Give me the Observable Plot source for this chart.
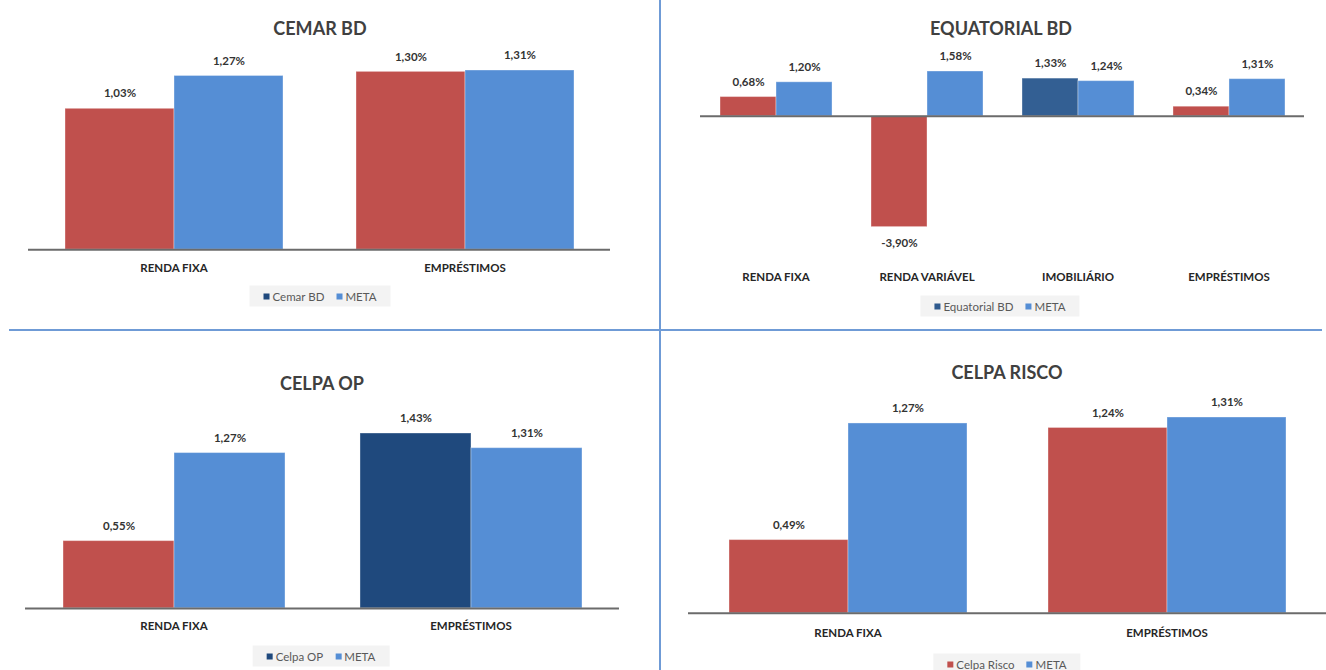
<!DOCTYPE html>
<html>
<head>
<meta charset="utf-8">
<script src="https://cdn.jsdelivr.net/npm/d3@7"></script>
<script src="https://cdn.jsdelivr.net/npm/@observablehq/plot@0.6"></script>
<style>
  html, body { margin: 0; padding: 0; background: #fff; }
  #page { position: relative; width: 1326px; height: 670px; overflow: hidden; font-family: Lato, "Open Sans", sans-serif; }
  .title { position: absolute; transform: translate(-50%, -50%); font-weight: 700; font-size: 18px; color: #404040; white-space: nowrap; }
  .legend { position: absolute; transform: translate(-50%, -50%); background: #f3f3f3; padding: 4px 14px; font-size: 11.5px; color: #595959; white-space: nowrap; display: flex; gap: 12px; }
  .legend span.sw { display: inline-block; width: 6px; height: 6px; margin-right: 3px; vertical-align: middle; position: relative; top: -1px; }
  .chart { position: absolute; }
  .divider { position: absolute; background: #6f9bd6; }
</style>
</head>
<body>
<div id="page"></div>
<script>
// ---------- data ----------
const cemarCats = ["RENDA FIXA", "EMPRÉSTIMOS"];
const cemarValues = [1.03, 1.30];
const cemarMeta = [1.27, 1.31];

const equatorialCats = ["RENDA FIXA", "RENDA VARIÁVEL", "IMOBILIÁRIO", "EMPRÉSTIMOS"];
const equatorialValues = [0.68, -3.90, 1.33, 0.34];
const equatorialMeta = [1.20, 1.58, 1.24, 1.31];

const celpaOpCats = ["RENDA FIXA", "EMPRÉSTIMOS"];
const celpaOpValues = [0.55, 1.43];
const celpaOpMeta = [1.27, 1.31];

const celpaRiscoCats = ["RENDA FIXA", "EMPRÉSTIMOS"];
const celpaRiscoValues = [0.49, 1.24];
const celpaRiscoMeta = [1.27, 1.31];

const metaName = "META";

// ---------- styles ----------
const RED = "#C0504D";
const META_BLUE = "#558ED5";

const page = document.getElementById("page");
const fmt = v => d3.format(".2f")(v).replace(".", ",").replace("−", "-") + "%";

function panel(cfg) {
  const {title, name, cats, values, meta, dark, legendColor, L} = cfg;
  const rows = cats.flatMap((c, i) => [
    {cat: c, series: name, value: values[i], fill: values[i] >= meta[i] ? dark : RED},
    {cat: c, series: metaName, value: meta[i], fill: META_BLUE}
  ]);
  const pad = 12;
  const yMax = Math.max(0, d3.max(rows, d => d.value));
  const yMin = Math.min(0, d3.min(rows, d => d.value));
  const mt = 30;
  const frameBottom = L.base - yMin * L.k;
  const mb = L.labelY - frameBottom + 14;
  const plotH = (yMax - yMin) * L.k;
  const height = mt + plotH + mb;
  const svg = Plot.plot({
    width: L.x1 - L.x0 + 2 * pad,
    height,
    marginLeft: pad, marginRight: pad, marginTop: mt, marginBottom: mb,
    style: {background: "transparent", overflow: "visible", fontFamily: "Lato, 'Open Sans', sans-serif"},
    fx: {domain: cats, padding: 0, axis: null, label: null},
    x: {domain: [name, metaName], paddingInner: 0, paddingOuter: 0.33, axis: null},
    y: {domain: [yMin, yMax], axis: null},
    color: {type: "identity"},
    marks: [
      Plot.barY(rows, {fx: "cat", x: "series", y: "value", fill: "fill", stroke: "#ffffff", strokeOpacity: 0.35, strokeWidth: 1}),
      Plot.ruleY([0], {stroke: "#6b6b6b", strokeWidth: 2}),
      Plot.text(rows.filter(d => d.value >= 0), {fx: "cat", x: "series", y: "value", text: d => fmt(d.value), dy: -15, fontSize: 11.5, fontWeight: 700, fill: "#333"}),
      Plot.text(rows.filter(d => d.value < 0), {fx: "cat", x: "series", y: "value", text: d => fmt(d.value), dy: 16, fontSize: 11.5, fontWeight: 700, fill: "#333"}),
      Plot.text(cats, {fx: d => d, text: d => d, frameAnchor: "bottom", dy: L.labelY - frameBottom, fontSize: 11.5, fontWeight: 700, fill: "#262626"})
    ]
  });
  svg.classList.add("chart");
  svg.style.left = (L.x0 - pad) + "px";
  svg.style.top = (L.base - yMax * L.k - mt) + "px";
  page.appendChild(svg);

  const t = document.createElement("div");
  t.className = "title";
  t.textContent = title;
  t.style.left = L.titleX + "px";
  t.style.top = L.titleY + "px";
  page.appendChild(t);

  const lg = document.createElement("div");
  lg.className = "legend";
  lg.style.left = L.legendX + "px";
  lg.style.top = L.legendY + "px";
  [[name, legendColor], [metaName, META_BLUE]].forEach(([n, c]) => {
    const item = document.createElement("div");
    const sw = document.createElement("span");
    sw.className = "sw";
    sw.style.background = c;
    item.appendChild(sw);
    item.appendChild(document.createTextNode(n));
    lg.appendChild(item);
  });
  page.appendChild(lg);
}

panel({
  title: "CEMAR BD", name: "Cemar BD", cats: cemarCats, values: cemarValues, meta: cemarMeta,
  dark: "#1F497D", legendColor: "#1F497D",
  L: {x0: 28, x1: 610, base: 249, k: 136.8, labelY: 271, titleX: 320, titleY: 28, legendX: 320, legendY: 296}
});
panel({
  title: "EQUATORIAL BD", name: "Equatorial BD", cats: equatorialCats, values: equatorialValues, meta: equatorialMeta,
  dark: "#335F93", legendColor: "#2F5A8E",
  L: {x0: 699, x1: 1304, base: 116, k: 28.4, labelY: 281, titleX: 1001, titleY: 28, legendX: 1000, legendY: 306}
});
panel({
  title: "CELPA OP", name: "Celpa OP", cats: celpaOpCats, values: celpaOpValues, meta: celpaOpMeta,
  dark: "#1F497D", legendColor: "#1F497D",
  L: {x0: 25, x1: 619, base: 608, k: 122.3, labelY: 630, titleX: 322, titleY: 383, legendX: 321, legendY: 656}
});
panel({
  title: "CELPA RISCO", name: "Celpa Risco", cats: celpaRiscoCats, values: celpaRiscoValues, meta: celpaRiscoMeta,
  dark: "#1F497D", legendColor: RED,
  L: {x0: 688, x1: 1326, base: 613, k: 149.5, labelY: 637, titleX: 1007, titleY: 372, legendX: 1007, legendY: 664}
});

// dividers
function divider(l, t, w, h) {
  const d = document.createElement("div");
  d.className = "divider";
  Object.assign(d.style, {left: l + "px", top: t + "px", width: w + "px", height: h + "px"});
  page.appendChild(d);
}
divider(659, 0, 2, 670);
divider(9, 329, 1313, 2);
</script>
</body>
</html>
